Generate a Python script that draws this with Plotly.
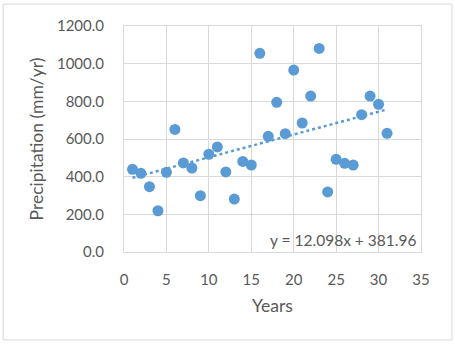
import numpy as np
import plotly.graph_objects as go

years = list(range(1, 32))
precip = [439, 418, 347, 219, 423, 651, 473, 446, 299, 519,
          558, 425, 281, 481, 462, 1055, 614, 795, 628, 966,
          685, 828, 1081, 319, 492, 471, 462, 729, 828, 784, 630]

slope = 12.098
intercept = 381.96
trend_label = "y = 12.098x + 381.96"

x_ticks = [0, 5, 10, 15, 20, 25, 30, 35]
y_ticks = [0, 200, 400, 600, 800, 1000, 1200]

BLUE = "#5B9BD5"
TEXT = "#595959"
GRID = "#D9D9D9"
FONT = "Lato"

fig = go.Figure()

# linear trendline (Excel style, dotted)
tx = np.array([years[0], years[-1]])
fig.add_scatter(
    x=tx,
    y=slope * tx + intercept,
    mode="lines",
    line=dict(color=BLUE, width=2.5, dash="dot"),
    hoverinfo="skip",
    showlegend=False,
)

fig.add_scatter(
    x=years,
    y=precip,
    mode="markers",
    marker=dict(size=11, color=BLUE),
    showlegend=False,
)

fig.add_annotation(
    text=trend_label,
    xref="paper", yref="paper",
    x=0.99, y=0.005,
    xanchor="right", yanchor="bottom",
    showarrow=False,
    font=dict(family=FONT, size=15.5, color=TEXT),
)

# outer chart border
fig.add_shape(
    type="rect", xref="paper", yref="paper",
    x0=-0.407, x1=1.104, y0=-0.389, y1=1.097,
    line=dict(color=GRID, width=1),
)

fig.update_xaxes(
    range=[0, 35],
    tickvals=x_ticks,
    ticktext=[str(v) for v in x_ticks],
    showgrid=True, gridcolor=GRID, gridwidth=1,
    showline=True, linecolor=GRID, mirror=True,
    zeroline=False,
    ticks="",
    ticklabelstandoff=14,
    tickfont=dict(family=FONT, size=15, color=TEXT),
    title=dict(text="Years", font=dict(family=FONT, size=17.5, color=TEXT), standoff=12),
)
fig.update_yaxes(
    range=[0, 1200],
    tickvals=y_ticks,
    ticktext=[f"{v:.1f}" for v in y_ticks],
    showgrid=True, gridcolor=GRID, gridwidth=1,
    showline=True, linecolor=GRID, mirror=True,
    zeroline=False,
    ticks="",
    ticklabelstandoff=16,
    tickfont=dict(family=FONT, size=15, color=TEXT),
    title=dict(text="Precipitation (mm/yr)", font=dict(family=FONT, size=17.5, color=TEXT), standoff=8),
)

fig.update_layout(
    width=455,
    height=344,
    margin=dict(l=124, r=34, t=26, b=92),
    paper_bgcolor="white",
    plot_bgcolor="white",
)

fig.write_html(
    "out.html",
    config={"displayModeBar": False},
    post_script="document.body.style.margin = '0';",
)
